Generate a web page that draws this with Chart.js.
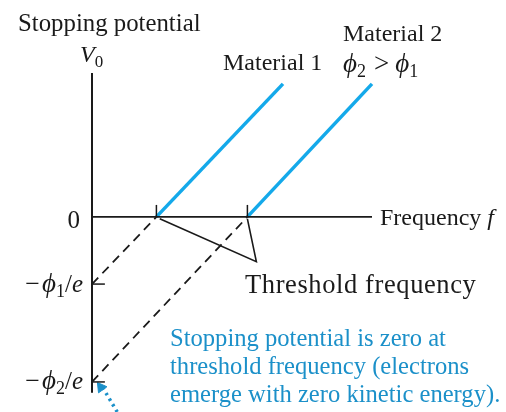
<!DOCTYPE html>
<html>
<head>
<meta charset="utf-8">
<script src="https://cdn.jsdelivr.net/npm/chart.js@4"></script>
<style>
  html, body { margin: 0; padding: 0; background: #fff; }
  #wrap { width: 506px; height: 412px; }
</style>
</head>
<body>
<div id="wrap"><canvas id="photoChart" width="506" height="412"></canvas></div>
<script>
// Data (frequency in plot units, potential in plot units)
const thresholdF = [2.3, 5.55];          // f at V0 = 0 for material 1, 2
const workV = [-2.1, -5.16];             // -phi/e intercepts
const mat1F = [2.3, 6.82];
const mat1V = [0, 4.16];
const mat2F = [5.55, 10];
const mat2V = [0, 4.16];
const ext1F = [0, 2.3];
const ext1V = [-2.1, 0];
const ext2F = [0, 5.55];
const ext2V = [-5.16, 0];
const pointerF = [2.42, 5.87, 5.55];     // "Threshold frequency" callout
const pointerV = [-0.06, -1.4, -0.06];
const noteArrowF = [0.9, 0.36];
const noteArrowV = [-6.1, -5.3];

const xMax = 10, yTop = 4.5, yAxisBottom = -5.5, yMin = -6.1;

function pts(xs, ys) {
    return xs.map((x, i) => ({ x: x, y: ys[i] }));
}

const black = '#1a1a1a';
const cyan = '#14a9ea';
const noteBlue = '#1b90c9';

function seg(data, color, width, dash) {
    return {
        data: data,
        showLine: true,
        borderColor: color,
        borderWidth: width,
        borderDash: dash || [],
        pointRadius: 0,
        fill: false,
        clip: false
    };
}

// tick marks on the axes
const tickSets = [
    seg(pts([thresholdF[0], thresholdF[0]], [0, 0.375]), black, 1.5),
    seg(pts([thresholdF[1], thresholdF[1]], [0, 0.375]), black, 1.5),
    seg(pts([0, 0.46], [workV[0], workV[0]]), black, 1.5),
    seg(pts([0, 0.46], [workV[1], workV[1]]), black, 1.5)
];

const datasets = [
    seg(pts([0, 0], [yTop, yAxisBottom]), black, 2),          // V0 axis
    seg(pts([0, xMax], [0, 0]), black, 1.8),                  // f axis
    ...tickSets,
    seg(pts(ext1F, ext1V), black, 1.8, [9, 6]),
    seg(pts(ext2F, ext2V), black, 1.8, [9, 6]),
    seg(pts(pointerF, pointerV), black, 1.6),
    seg(pts(mat1F, mat1V), cyan, 3.5),
    seg(pts(mat2F, mat2V), cyan, 3.5),
    seg(pts(noteArrowF, noteArrowV), noteBlue, 3.5, [2.5, 4]),
    {
        data: [{ x: noteArrowF[1] - 0.04, y: noteArrowV[1] - 0.03 }],
        pointStyle: 'triangle',
        rotation: -36,
        pointRadius: 6,
        backgroundColor: noteBlue,
        borderColor: noteBlue,
        borderWidth: 1,
        showLine: false,
        clip: false
    }
];

// text pieces drawn around the plot
const serif = '"Liberation Serif", "Times New Roman", serif';
const phi = 'ϕ';

function runs(ctx, parts, x, y, align, size, spacing) {
    const base = size || 24;
    ctx.letterSpacing = spacing || '0px';
    let total = 0;
    parts.forEach(p => {
        ctx.font = (p.italic ? 'italic ' : '') + (p.size || base) + 'px ' + serif;
        p.w = ctx.measureText(p.t).width + (p.gap || 0);
        total += p.w;
    });
    let cx = align === 'right' ? x - total : x;
    parts.forEach(p => {
        ctx.font = (p.italic ? 'italic ' : '') + (p.size || base) + 'px ' + serif;
        ctx.fillText(p.t, cx, y + (p.dy || 0));
        cx += p.w;
    });
    ctx.letterSpacing = '0px';
}

function phiLabel(ctx, sub, x, y) {
    runs(ctx, [
        { t: '−', size: 26, gap: 2 },
        { t: phi, italic: true, size: 27 },
        { t: sub, size: 18, dy: 5 },
        { t: '/', size: 25 },
        { t: 'e', italic: true, size: 25 }
    ], x, y, 'right');
}

const labelPlugin = {
    id: 'labels',
    afterDraw(chart) {
        const ctx = chart.ctx;
        ctx.save();
        ctx.textBaseline = 'alphabetic';
        ctx.textAlign = 'left';
        ctx.fillStyle = black;
        runs(ctx, [{ t: 'Stopping potential' }], 18, 31, 'left', 24.8);
        runs(ctx, [{ t: 'V', italic: true }, { t: '0', size: 17, dy: 5 }], 80, 62);
        runs(ctx, [{ t: 'Material 1' }], 223, 70);
        runs(ctx, [{ t: 'Material 2' }], 343, 41);
        runs(ctx, [
            { t: phi, italic: true, size: 27 }, { t: '2', size: 18, dy: 5, gap: 8 },
            { t: '>', size: 27, gap: 6 },
            { t: phi, italic: true, size: 27 }, { t: '1', size: 18, dy: 5 }
        ], 343, 72);
        runs(ctx, [{ t: '0' }], 80, 228, 'right', 25);
        runs(ctx, [{ t: 'Frequency ' }, { t: 'f', italic: true }], 380, 225);
        phiLabel(ctx, '1', 83, 292);
        phiLabel(ctx, '2', 83, 389);
        runs(ctx, [{ t: 'Threshold frequency' }], 245, 293, 'left', 26.5, '0.6px');
        ctx.fillStyle = noteBlue;
        runs(ctx, [{ t: 'Stopping potential is zero at' }], 170, 346, 'left', 24.6);
        runs(ctx, [{ t: 'threshold frequency (electrons' }], 170, 374, 'left', 24.6);
        runs(ctx, [{ t: 'emerge with zero kinetic energy).' }], 170, 402, 'left', 24.6);
        ctx.restore();
    }
};

const chart = new Chart(document.getElementById('photoChart').getContext('2d'), {
    type: 'scatter',
    data: { datasets: datasets },
    options: {
        responsive: false,
        animation: false,
        layout: { autoPadding: false, padding: { left: 92, right: 134, top: 73, bottom: 0 } },
        plugins: {
            legend: { display: false },
            tooltip: { enabled: false }
        },
        scales: {
            x: { type: 'linear', min: 0, max: xMax, display: false },
            y: { type: 'linear', min: yMin, max: yTop, display: false }
        }
    },
    plugins: [labelPlugin]
});
</script>
</body>
</html>
